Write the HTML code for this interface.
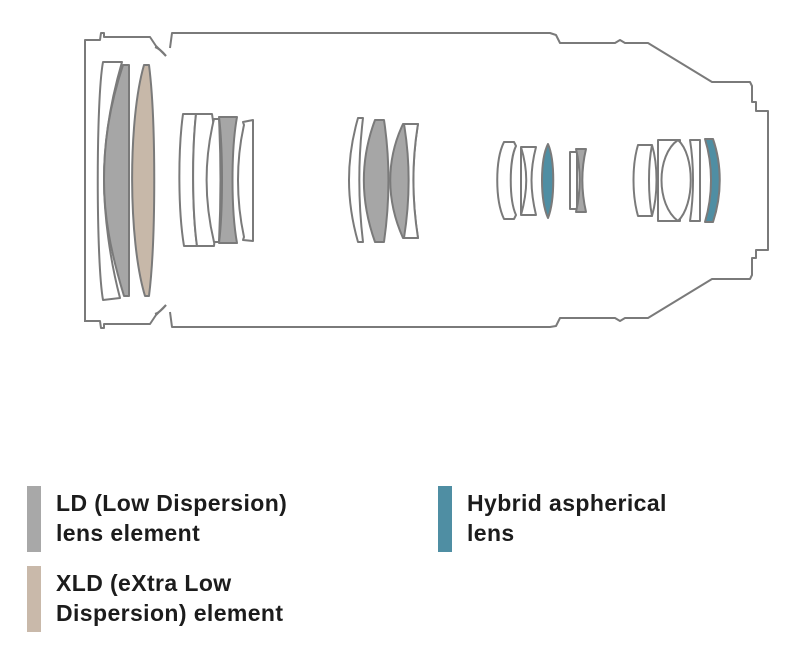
<!DOCTYPE html>
<html><head><style>
html,body{margin:0;padding:0;background:#fff;}
body{width:800px;height:661px;position:relative;overflow:hidden;font-family:"Liberation Sans",sans-serif;}
.t{position:absolute;font-size:23px;font-weight:bold;color:#1c1c1c;line-height:30px;letter-spacing:0.4px;}
.sw{position:absolute;width:14px;}
</style></head><body>
<svg width="800" height="661" style="position:absolute;left:0;top:0" fill="none" stroke="#7a7a7a" stroke-width="2" stroke-linejoin="round">
<path d="M85,322 L85,40 L100,40 L101,33 L104,33 L104,37 L150,37 L156,46 L162,52 L166,56 M170,48 L172,33 L550,33 L556,35 L560,43 L615,43 L620,40 L625,43 L648,43 L712,82 L750,82 L752,86 L752,102 L756,102 L756,111 L768,111 L768,250 L756,250 L756,258 L752,258 L752,275 L750,279 L712,279 L648,318 L625,318 L620,321 L615,318 L560,318 L556,326 L550,327 L172,327 L170,312 M166,305 L162,309 L156,315 L150,324 L104,324 L104,328 L101,328 L100,321 L85,321"/>
<path d="M166,56 C162,51 158,48 155,47 M166,305 C162,310 158,313 155,314" />
<path d="M103,62 L122,62 C108,110 104,150 104,180 C104,215 110,260 120,298 L103,300 C96,260 96,100 103,62 Z" fill="#fff"/>
<path d="M123,65 L129,65 L129,296 L124,296 C110,250 104,215 104,180 C104,140 110,105 123,65 Z" fill="#a6a6a6"/>
<path d="M144,65 L149,65 C156,120 156,240 149,296 L145,296 C128,240 128,120 144,65 Z" fill="#c7b8a9"/>
<path d="M183,114 L196,114 C192,150 192,210 197,246 L184,246 C178,210 178,150 183,114 Z" fill="#fff"/>
<path d="M196,114 L212,114 C218,150 218,210 214,246 L197,246 C192,210 192,150 196,114 Z" fill="#fff"/>
<path d="M214,119 L219,119 C221,160 221,200 219,242 L214,242 C204,200 204,160 214,119 Z" fill="#fff"/>
<path d="M219,117 L237,117 C231,150 231,210 237,243 L219,243 C223,210 223,150 219,117 Z" fill="#a6a6a6"/>
<path d="M243,122 L253,120 L253,241 L243,240 L244,237 C236,200 236,160 244,125 Z" fill="#fff"/>
<path d="M358,118 L363,118 C358,160 358,200 363,242 L358,242 C346,200 346,160 358,118 Z" fill="#fff"/>
<path d="M375,120 L384,120 C390,160 390,200 384,242 L375,242 C360,200 360,160 375,120 Z" fill="#a6a6a6"/>
<path d="M403,124 L418,124 C412,160 412,200 418,238 L403,238 C386,200 386,160 403,124 Z" fill="#a6a6a6"/>
<path d="M404,124 L418,124 C412,160 412,200 418,238 L404,238 C410,200 410,160 404,124 Z" fill="#fff"/>
<path d="M504,142 L514,142 L516,146 C509,160 509,200 516,215 L514,219 L504,219 C495,200 495,160 504,142 Z" fill="#fff"/>
<path d="M521,147 L536,147 C530,170 530,190 536,215 L521,215 Z" fill="#fff"/>
<path d="M521,147 C528,170 528,190 521,215" />
<path d="M548,144 C555,160 555,200 548,218 C540,200 540,160 548,144 Z" fill="#4f8ea3"/>
<path d="M570,152 L577,152 L577,209 L570,209 Z" fill="#fff"/>
<path d="M576,149 L586,149 C581,170 581,190 586,212 L576,212 C581,190 581,170 576,149 Z" fill="#a6a6a6"/>
<path d="M638,145 L652,145 C648,165 648,195 652,216 L638,216 C632,195 632,165 638,145 Z" fill="#fff"/>
<path d="M652,145 C658,165 658,195 652,216"/>
<path d="M658,140 L680,140 L680,221 L658,221 Z" fill="#fff"/>
<path d="M678,140 C695,155 695,205 678,221 C656,205 656,155 678,140 Z" fill="#fff"/>
<path d="M690,140 L700,140 L700,221 L690,221 C694,195 694,165 690,140 Z" fill="#fff"/>
<path d="M705,139 L713,139 C722,165 722,195 713,222 L705,222 C713,195 713,165 705,139 Z" fill="#4f8ea3"/>
</svg>
<div class="sw" style="left:27px;top:486px;height:66px;background:#a8a8a8"></div>
<div class="sw" style="left:27px;top:566px;height:66px;background:#c9b9aa"></div>
<div class="sw" style="left:438px;top:486px;height:66px;background:#4f8ea3"></div>
<div class="t" style="left:56px;top:488px">LD (Low Dispersion)<br>lens element</div>
<div class="t" style="left:56px;top:568px">XLD (eXtra Low<br>Dispersion) element</div>
<div class="t" style="left:467px;top:488px">Hybrid aspherical<br>lens</div>
</body></html>
